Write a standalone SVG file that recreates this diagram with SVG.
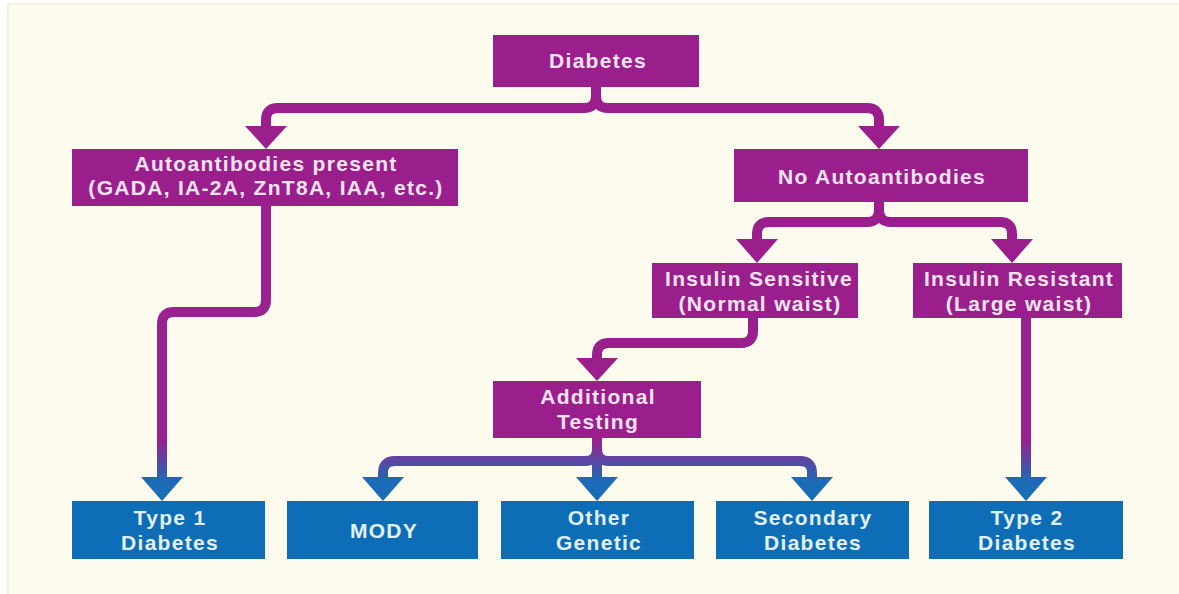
<svg xmlns="http://www.w3.org/2000/svg" width="1179" height="594" viewBox="0 0 1179 594">
  <defs>
    <linearGradient id="pb" gradientUnits="userSpaceOnUse" x1="0" y1="440" x2="0" y2="482">
      <stop offset="0" stop-color="#9a2190"/>
      <stop offset="1" stop-color="#1b6cb6"/>
    </linearGradient>
    <style>
      .p { fill: #9b1e8d; }
      .b { fill: #0d6db6; }
      .t { font-family: "Liberation Sans", Arial, sans-serif; font-weight: bold; font-size: 21px; letter-spacing: 1.3px; text-anchor: middle; }
      .tp { fill: #f6e4f2; }
      .tb { fill: #e2f0fa; }
      .ln { fill: none; stroke: #9b1e8d; stroke-width: 10; stroke-linejoin: round; }
      .lg { fill: none; stroke: url(#pb); stroke-width: 10; stroke-linejoin: round; }
      .ah { fill: #9b1e8d; }
      .ag { fill: url(#pb); }
    </style>
  </defs>

  <rect x="0" y="0" width="1179" height="594" fill="#ffffff"/>
  <rect x="8" y="4" width="1175" height="594" fill="#fdfbee" stroke="#eeecd8" stroke-width="1.5"/>

  <g id="connectors">
    <path class="ln" d="M596,87 V96 Q596,108 584,108 H278 Q266,108 266,120 V130"/>
    <path class="ln" d="M596,87 V96 Q596,108 608,108 H867 Q879,108 879,120 V130"/>
    <polygon class="ah" points="245,126 287,126 266,149"/>
    <polygon class="ah" points="858,126 900,126 879,149"/>

    <path class="ln" d="M879,202 V210 Q879,222 867,222 H769 Q757,222 757,234 V243"/>
    <path class="ln" d="M879,202 V210 Q879,222 891,222 H1000 Q1012,222 1012,234 V243"/>
    <polygon class="ah" points="736,239 778,239 757,263"/>
    <polygon class="ah" points="991,239 1033,239 1012,263"/>

    <path class="ln" d="M753,318 V331 Q753,343 741,343 H609 Q597,343 597,355 V362"/>
    <polygon class="ah" points="576,358 618,358 597,381"/>

    <path class="lg" d="M597,438 V481"/>
    <path class="lg" d="M597,438 V449 Q597,461 585,461 H395 Q383,461 383,473 V481"/>
    <path class="lg" d="M597,438 V449 Q597,461 609,461 H800 Q812,461 812,473 V481"/>
    <polygon class="ag" points="362,477 404,477 383,501"/>
    <polygon class="ag" points="576,477 618,477 597,501"/>
    <polygon class="ag" points="791,477 833,477 812,501"/>

    <path class="lg" d="M266,206 V300 Q266,312 254,312 H174 Q162,312 162,324 V481"/>
    <polygon class="ag" points="141,477 183,477 162,501"/>

    <path class="lg" d="M1026,318 V481"/>
    <polygon class="ag" points="1005,477 1047,477 1026,501"/>
  </g>

  <g id="diabetes">
    <rect class="p" x="493" y="35" width="206" height="52"/>
    <text class="t tp" x="598" y="68">Diabetes</text>
  </g>

  <g id="autoantibodies">
    <rect class="p" x="72" y="149" width="386" height="57"/>
    <text class="t tp" x="266" y="171">Autoantibodies present</text>
    <text class="t tp" x="266" y="195">(GADA, IA-2A, ZnT8A, IAA, etc.)</text>
  </g>

  <g id="no-autoantibodies">
    <rect class="p" x="734" y="149" width="294" height="53"/>
    <text class="t tp" x="882" y="184">No Autoantibodies</text>
  </g>

  <g id="insulin-sensitive">
    <rect class="p" x="652" y="263" width="206" height="55"/>
    <text class="t tp" x="759" y="286">Insulin Sensitive</text>
    <text class="t tp" x="760" y="311">(Normal waist)</text>
  </g>

  <g id="insulin-resistant">
    <rect class="p" x="913" y="263" width="209" height="55"/>
    <text class="t tp" x="1019" y="286">Insulin Resistant</text>
    <text class="t tp" x="1019" y="311">(Large waist)</text>
  </g>

  <g id="additional-testing">
    <rect class="p" x="493" y="381" width="208" height="57"/>
    <text class="t tp" x="598" y="404">Additional</text>
    <text class="t tp" x="598" y="429">Testing</text>
  </g>

  <g id="type1">
    <rect class="b" x="72" y="501" width="193" height="58"/>
    <text class="t tb" x="170" y="525">Type 1</text>
    <text class="t tb" x="170" y="550">Diabetes</text>
  </g>

  <g id="mody">
    <rect class="b" x="287" y="501" width="191" height="58"/>
    <text class="t tb" x="384" y="538">MODY</text>
  </g>

  <g id="other-genetic">
    <rect class="b" x="501" y="501" width="193" height="58"/>
    <text class="t tb" x="599" y="525">Other</text>
    <text class="t tb" x="599" y="550">Genetic</text>
  </g>

  <g id="secondary">
    <rect class="b" x="716" y="501" width="193" height="58"/>
    <text class="t tb" x="813" y="525">Secondary</text>
    <text class="t tb" x="813" y="550">Diabetes</text>
  </g>

  <g id="type2">
    <rect class="b" x="929" y="501" width="194" height="58"/>
    <text class="t tb" x="1027" y="525">Type 2</text>
    <text class="t tb" x="1027" y="550">Diabetes</text>
  </g>
</svg>
